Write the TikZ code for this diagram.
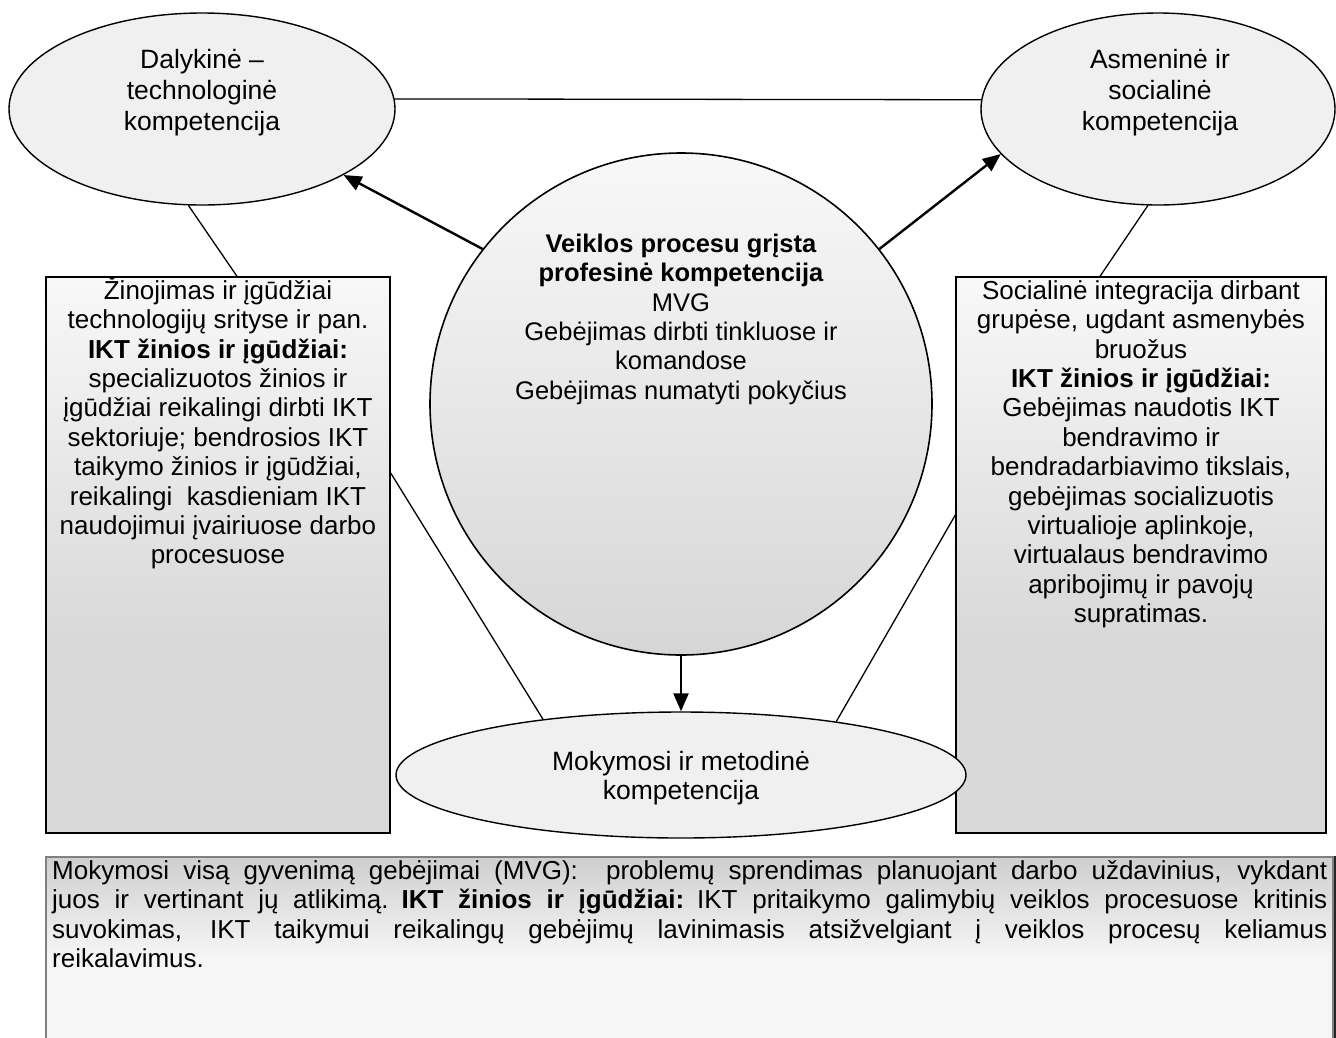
\documentclass[tikz,border=0pt]{standalone}
\usepackage{fontspec}
\setmainfont{Liberation Sans}
\usetikzlibrary{shapes.geometric,arrows.meta}

\definecolor{ellfill}{HTML}{F0F0F0}
\definecolor{lightg}{HTML}{F8F8F8}
\definecolor{darkg}{HTML}{D9D9D9}
\definecolor{botdark}{HTML}{CFCFCF}
\definecolor{botlight}{HTML}{F6F6F6}
\definecolor{circtop}{HTML}{F8F8F8}
\definecolor{circbot}{HTML}{D6D6D6}

\pgfdeclareverticalshading{sideshade}{100bp}{color(0bp)=(darkg); color(25bp)=(darkg); color(43bp)=(darkg); color(75bp)=(lightg); color(100bp)=(lightg)}
\pgfdeclareverticalshading{botshade}{100bp}{color(0bp)=(botlight); color(50bp)=(botlight); color(75bp)=(botdark); color(100bp)=(botdark)}

\newcommand{\fl}{\rule{0pt}{25pt}}
\newcommand{\jline}[1]{\makebox[1275pt][s]{\spaceskip=7.2pt plus 1fil\relax #1}}

\tikzset{
  ell/.style={ellipse, draw=black, line width=1.4pt, fill=ellfill, inner sep=0pt},
  circ/.style={circle, draw=black, line width=1.6pt, top color=circtop, bottom color=circbot, inner sep=0pt},
  sidebox/.style={rectangle, draw=black, line width=1.4pt, shading=sideshade, inner sep=0pt},
  botbox/.style={rectangle, draw=black!50, line width=2pt, shading=botshade, inner sep=0pt},
  txt/.style={anchor=north, inner sep=0pt, align=center, font=\fontsize{26.5}{31}\selectfont},
  boxtxt/.style={anchor=north, inner sep=0pt, align=center, font=\fontsize{26}{29.4}\selectfont},
  conn/.style={draw=black, line width=1.3pt},
  arr/.style={draw=black, line width=2.4pt, -{Triangle[length=18pt,width=15pt]}},
  shadowedge/.style={draw=black!85, line width=1.6pt}
}

\begin{document}
\begin{tikzpicture}[x=1pt,y=-1pt]
\useasboundingbox[fill=white] (0,0) rectangle (1336,1037);

% shapes
\node[sidebox, minimum width=344pt, minimum height=556pt] (LB) at (218,555) {};
\node[sidebox, minimum width=370pt, minimum height=556pt] (RB) at (1141,555) {};
\node[botbox, minimum width=1287pt, minimum height=203pt] (BB) at (689.5,958.5) {};
\draw[shadowedge] ([xshift=1.2pt]BB.north east) -- ([xshift=1.2pt]BB.south east);

\node[ell, minimum width=386pt, minimum height=192pt] (L) at (202,109) {};
\node[ell, minimum width=354pt, minimum height=192pt] (R) at (1158,109) {};
\node[ell, minimum width=570pt, minimum height=126pt] (B) at (681,775) {};
\node[circ, minimum size=502pt] (C) at (681,404) {};

% texts
\node[txt] (Lt) at (202,43) {\fl Dalykinė –\\technologinė\\kompetencija};
\node[txt] (Rt) at (1160,43) {\fl Asmeninė ir\\socialinė\\kompetencija};
\node[txt, font=\fontsize{26.5}{29.4}\selectfont] (Bt) at (681,745) {\fl Mokymosi ir metodinė\\kompetencija};
\node[boxtxt, font=\fontsize{25.5}{29.4}\selectfont] (Ct) at (681,227) {\fl\textbf{Veiklos procesu grįsta}\\\textbf{profesinė kompetencija}\\MVG\\Gebėjimas dirbti tinkluose ir\\komandose\\Gebėjimas numatyti pokyčius};

\node[boxtxt] (LBt) at (218,274) {\fl Žinojimas ir įgūdžiai\\technologijų srityse ir pan.\\\textbf{IKT žinios ir įgūdžiai:}\\specializuotos žinios ir\\įgūdžiai reikalingi dirbti IKT\\sektoriuje; bendrosios IKT\\taikymo žinios ir įgūdžiai,\\reikalingi\ \ kasdieniam IKT\\naudojimui įvairiuose darbo\\procesuose};

\node[boxtxt] (RBt) at (1141,274) {\fl Socialinė integracija dirbant\\grupėse, ugdant asmenybės\\bruožus\\\textbf{IKT žinios ir įgūdžiai:}\\Gebėjimas naudotis IKT\\bendravimo ir\\bendradarbiavimo tikslais,\\gebėjimas socializuotis\\virtualioje aplinkoje,\\virtualaus bendravimo\\apribojimų ir pavojų\\supratimas.};

\node[anchor=north west, inner sep=0pt, align=left, text width=1275pt, font=\fontsize{26}{29.4}\selectfont] (BBt) at (52,854) {%
\fl\jline{Mokymosi visą gyvenimą gebėjimai (MVG):\ \ problemų sprendimas planuojant darbo uždavinius, vykdant}\\
\jline{juos ir vertinant jų atlikimą. \textbf{IKT žinios ir įgūdžiai:} IKT pritaikymo galimybių veiklos procesuose kritinis}\\
\jline{suvokimas, IKT taikymui reikalingų gebėjimų lavinimasis atsižvelgiant į veiklos procesų keliamus}\\
reikalavimus.};

% connectors
\draw[conn] (L.3) -- (R.177);
\draw[conn] (L.262) -- ([xshift=19pt]LB.north);
\draw[conn] (R.264) -- ([xshift=-41pt]RB.north);
\draw[conn] ([yshift=82pt]LB.east) -- (B.158);
\draw[conn] ([yshift=40pt]RB.west) -- (B.19);

% arrows
\draw[arr] (C.142) -- (L.-25);
\draw[arr] (C.38) -- (R.196);
\draw[arr] (C.south) -- (B.north);
\end{tikzpicture}
\end{document}
